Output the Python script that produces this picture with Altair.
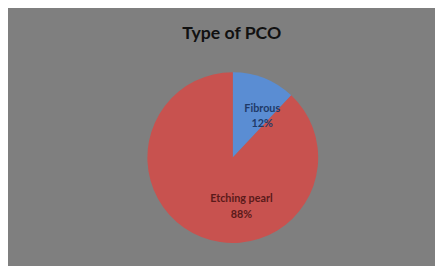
import altair as alt
import pandas as pd

categories = ["Fibrous", "Etching pearl"]
values = [12, 88]
labels = ["Fibrous\n12%", "Etching pearl\n88%"]
order = [0, 1]
title_text = ["Type of PCO"]

df = pd.DataFrame({"cat": categories, "val": values, "label": labels, "ord": order})

CX, CY, R = 229, 150, 87

base = alt.Chart(df).encode(
    theta=alt.Theta("val:Q", stack=True),
    order=alt.Order("ord:Q"),
)

pie = base.mark_arc(outerRadius=R).encode(
    x=alt.value(CX), y=alt.value(CY),
    color=alt.Color("cat:N", scale=alt.Scale(domain=categories, range=["#5A8DD3", "#C8524F"]), legend=None),
)

t1 = base.mark_text(radius=57, dx=9, dy=4, fontSize=11, fontWeight="bold", font="Lato", lineBreak="\n",
                    lineHeight=15, color="#1F3A68").encode(
    x=alt.value(CX), y=alt.value(CY), text="label:N"
).transform_filter(alt.datum.cat == "Fibrous")

t2 = base.mark_text(radius=51, dx=-10, dy=-5, fontSize=11, fontWeight="bold", font="Lato", lineBreak="\n",
                    lineHeight=16, color="#5A1A1A").encode(
    x=alt.value(CX), y=alt.value(CY), text="label:N"
).transform_filter(alt.datum.cat == "Etching pearl")

title = alt.Chart(pd.DataFrame({"t": title_text})).mark_text(
    font="Lato", fontSize=18, fontWeight="bold", color="#111111", align="center", baseline="middle"
).encode(x=alt.value(228), y=alt.value(24), text="t:N")

chart = alt.layer(pie, t1, t2, title).properties(
    width=435, height=258,
    autosize=alt.AutoSizeParams(type="fit", contains="padding"),
    padding=0,
    background="#7F7F7F",
).configure_view(stroke=None)

chart.save("out.html", embed_options={"renderer": "svg", "actions": False})
